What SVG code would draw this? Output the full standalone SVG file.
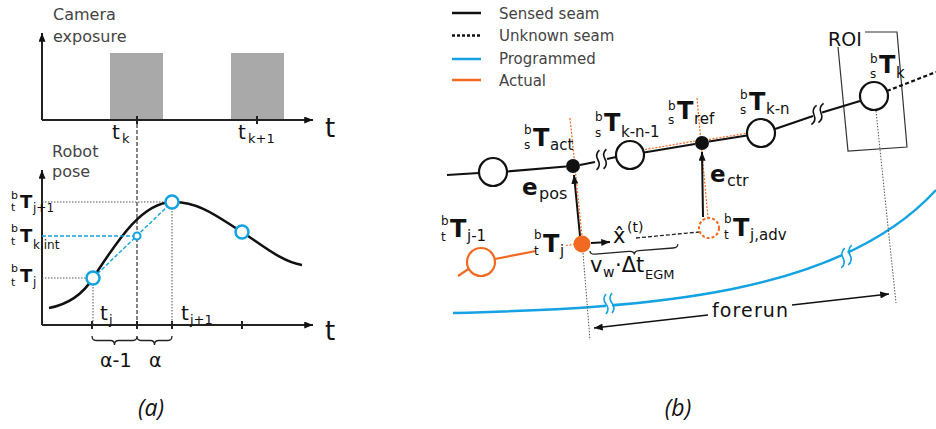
<svg xmlns="http://www.w3.org/2000/svg" width="936" height="429" viewBox="0 0 936 429">
<style>
text{font-family:"DejaVu Sans",sans-serif;fill:#111}
.lbl{fill:#444;font-size:16px}
.leg{fill:#444;font-size:15px}
.T{font-weight:bold;font-size:24px}
.Ta{font-weight:bold;font-size:18px}
.sm{font-size:12px}
.sma{font-size:11px}
.suba{font-size:12px}
.sub{font-size:15px}
.ax{stroke:#222;stroke-width:2;fill:none}
.seam{stroke:#111;stroke-width:2.2;fill:none}
.blue{stroke:#14a2e2;stroke-width:2.5;fill:none}
.org{stroke:#f26a21;stroke-width:2.2;fill:none}
.odash{stroke:#f26a21;stroke-width:1.2;stroke-dasharray:2 1.5;fill:none}
.gdot{stroke:#555;stroke-width:1;stroke-dasharray:1.5 1.5;fill:none}
.cap{font-family:"Open Sans",sans-serif;font-style:italic;font-size:23px}
</style>
<defs>
<marker id="ah" viewBox="0 0 10 8" refX="10" refY="4" markerWidth="9" markerHeight="7" markerUnits="userSpaceOnUse" orient="auto-start-reverse"><path d="M0,0 L10,4 L0,8 z" fill="#111"/></marker>
<path id="brk" d="M0,-10 q-4,5 0,10 q4,5 0,10" fill="none"/>
</defs>
<rect width="936" height="429" fill="#fff"/>

<!-- Panel (a) -->
<g id="camera-chart">
<rect x="110" y="53" width="53" height="67" fill="#a9a9a9"/>
<rect x="231" y="53" width="53" height="67" fill="#a9a9a9"/>
<line class="ax" x1="42" y1="120" x2="42" y2="33" marker-end="url(#ah)"/>
<line class="ax" x1="42" y1="120" x2="313" y2="120" marker-end="url(#ah)"/>
<line class="ax" x1="137" y1="116" x2="137" y2="124" stroke-width="1.5"/>
<line class="ax" x1="257" y1="116" x2="257" y2="124" stroke-width="1.5"/>
<text class="lbl" x="53" y="20">Camera</text>
<text class="lbl" x="53" y="42">exposure</text>
<text x="325" y="137" font-size="26">t</text>
<text x="112" y="139" font-size="20">t</text><text x="122" y="143" font-size="13">k</text>
<text x="238" y="139" font-size="20">t</text><text x="248" y="143" font-size="13">k+1</text>
</g>
<line x1="137" y1="124" x2="137" y2="325" stroke="#444" stroke-width="1.3" stroke-dasharray="4 2"/>
<g id="pose-chart">
<line class="ax" x1="42" y1="325" x2="42" y2="170" marker-end="url(#ah)"/>
<line class="ax" x1="42" y1="325" x2="313" y2="325" marker-end="url(#ah)"/>
<line class="ax" x1="92" y1="321" x2="92" y2="329" stroke-width="1.5"/>
<line class="ax" x1="137" y1="321" x2="137" y2="329" stroke-width="1.5"/>
<line class="ax" x1="172" y1="321" x2="172" y2="329" stroke-width="1.5"/>
<line class="ax" x1="242" y1="321" x2="242" y2="329" stroke-width="1.5"/>
<text class="lbl" x="52" y="157">Robot</text>
<text class="lbl" x="52" y="177">pose</text>
<text x="325" y="340" font-size="26">t</text>
<path class="gdot" d="M42,202 H166 M42,278 H87 M93,284 V325 M172,208 V325"/>
<path d="M49,308 C70,304 83,294 93,278 C115,245 140,203 172,202 C200,201 222,220 242,232 C262,245 282,262 302,265" fill="none" stroke="#111" stroke-width="2.5"/>
<path d="M42,236 H134 M93,278 L172,202" fill="none" stroke="#14a2e2" stroke-width="1.4" stroke-dasharray="4 2"/>
<circle cx="93" cy="278" r="6.5" fill="#fff" stroke="#14a2e2" stroke-width="2.5"/>
<circle cx="172" cy="202" r="6.5" fill="#fff" stroke="#14a2e2" stroke-width="2.5"/>
<circle cx="242" cy="232" r="6.5" fill="#fff" stroke="#14a2e2" stroke-width="2.5"/>
<circle cx="137" cy="236" r="3.5" fill="#fff" stroke="#14a2e2" stroke-width="2"/>
<text class="sma" x="11" y="199">b</text><text class="sma" x="11" y="211">t</text><text class="Ta" x="20" y="208">T</text><text class="suba" x="33" y="212">j+1</text>
<text class="sma" x="11" y="232">b</text><text class="sma" x="11" y="245">t</text><text class="Ta" x="20" y="242">T</text><text class="suba" x="33" y="249">k,int</text>
<text class="sma" x="11" y="272">b</text><text class="sma" x="11" y="286">t</text><text class="Ta" x="20" y="282">T</text><text class="suba" x="33" y="286">j</text>
<text x="100" y="320" font-size="20">t</text><text x="109" y="324" font-size="13">j</text>
<text x="181" y="320" font-size="20">t</text><text x="190" y="324" font-size="13">j+1</text>
<path d="M92,336 Q92,340.5 96,340.5 L110.5,340.5 Q114.5,340.5 114.5,345 Q114.5,340.5 118.5,340.5 L133,340.5 Q137,340.5 137,336 M137,336 Q137,340.5 141,340.5 L150.5,340.5 Q154.5,340.5 154.5,345 Q154.5,340.5 158.5,340.5 L168,340.5 Q172,340.5 172,336" fill="none" stroke="#222" stroke-width="1.3"/>
<text x="100" y="367" font-size="19">α-1</text>
<text x="149" y="367" font-size="19">α</text>
</g>

<!-- Panel (b) -->
<g id="legend">
<line x1="452" y1="13" x2="481" y2="13" stroke="#111" stroke-width="2.5"/>
<line x1="452" y1="35.5" x2="481" y2="35.5" stroke="#111" stroke-width="2.5" stroke-dasharray="3 2"/>
<line x1="452" y1="59" x2="481" y2="59" stroke="#14a2e2" stroke-width="2.5"/>
<line x1="452" y1="80" x2="481" y2="80" stroke="#f26a21" stroke-width="2.5"/>
<text class="leg" x="499" y="18.5">Sensed seam</text>
<text class="leg" x="499" y="41">Unknown seam</text>
<text class="leg" x="499" y="64">Programmed</text>
<text class="leg" x="499" y="86">Actual</text>
</g>

<g id="programmed-path">
<path class="blue" d="M453,313 C650,308 840,295 936,190"/>
<rect x="606" y="296" width="6" height="16" fill="#fff" transform="rotate(-2 609 304)"/>
<rect x="843" y="248" width="6" height="18" fill="#fff" transform="rotate(-20 846 257)"/>
<use href="#brk" transform="translate(606,304)" stroke="#14a2e2" stroke-width="1.6"/>
<use href="#brk" transform="translate(612,303)" stroke="#14a2e2" stroke-width="1.6"/>
<use href="#brk" transform="translate(843,258) rotate(10)" stroke="#14a2e2" stroke-width="1.6"/>
<use href="#brk" transform="translate(850,255) rotate(10)" stroke="#14a2e2" stroke-width="1.6"/>
</g>

<g id="roi">
<path d="M865,32 L897,32 L907,147 L848,151 L838,47" fill="none" stroke="#333" stroke-width="1.2"/>
<text x="828" y="46" font-size="19" fill="#333">ROI</text>
</g>

<g id="connectors">
<path class="gdot" d="M583,253 L590,340 M876,111 L896,303"/>
<path class="seam" d="M447,175 L479,173 M507,171.5 L566,166.5 M580,165 L595,162 M607,159 L616,157 M644,152.5 L695,144 M709,141.5 L747,135.5 M775,129 L813,116 M822,112.5 L860,101"/>
<path class="seam" d="M887,91 L936,72" stroke-dasharray="4 2.5"/>
<use href="#brk" transform="translate(598,160) rotate(8)" stroke="#111" stroke-width="1.6"/>
<use href="#brk" transform="translate(605,159) rotate(8)" stroke="#111" stroke-width="1.6"/>
<use href="#brk" transform="translate(814,115) rotate(15)" stroke="#111" stroke-width="1.6"/>
<use href="#brk" transform="translate(821,113) rotate(15)" stroke="#111" stroke-width="1.6"/>
<path class="odash" d="M570,118 L582,236 M697,98 L708,218 M645,149.5 L695,141 M709,139.5 L748,133"/>
<path class="org" d="M458,276 L470,268 M495,259 L536,251"/>
<path class="odash" d="M566,245.5 L574,244.5"/>
<line x1="580" y1="236" x2="574" y2="175" stroke="#111" stroke-width="2" marker-end="url(#ah)"/>
<line x1="703" y1="217" x2="702" y2="152" stroke="#111" stroke-width="2" marker-end="url(#ah)"/>
<line x1="591" y1="243" x2="610" y2="242" stroke="#111" stroke-width="2" marker-end="url(#ah)"/>
<line x1="636" y1="238" x2="699" y2="232" stroke="#222" stroke-width="1.3" stroke-dasharray="4 2"/>
<path d="M0,0 Q0,3.5 5,3.5 L39,3.5 Q44,3.5 44,7 Q44,3.5 49,3.5 L83,3.5 Q88,3.5 88,0" fill="none" stroke="#222" stroke-width="1.3" transform="translate(590,251) rotate(-4.5)"/>
<line x1="594" y1="328" x2="708" y2="315" stroke="#111" stroke-width="1.3" marker-start="url(#ah)"/>
<line x1="792" y1="305" x2="889" y2="294" stroke="#111" stroke-width="1.3" marker-end="url(#ah)"/>
<text x="712" y="317" font-size="19" textLength="76" fill="#222">forerun</text>
</g>

<g id="seam-pose-1"><circle cx="493" cy="172" r="14" fill="#fff" stroke="#111" stroke-width="2.2"/></g>
<g id="T-act"><circle cx="573" cy="166" r="7" fill="#111"/>
<text class="sm" x="524" y="134">b</text><text class="sm" x="524" y="149">s</text><text class="T" x="533" y="146">T</text><text class="sub" x="550" y="150">act</text></g>
<g id="T-k-n-1"><circle cx="630" cy="155" r="14" fill="#fff" stroke="#111" stroke-width="2.2"/>
<text class="sm" x="595" y="121">b</text><text class="sm" x="595" y="137">s</text><text class="T" x="604" y="131">T</text><text class="sub" x="621" y="137">k-n-1</text></g>
<g id="T-ref"><circle cx="702" cy="143" r="7" fill="#111"/>
<text class="sm" x="668" y="110">b</text><text class="sm" x="668" y="124">s</text><text class="T" x="677" y="119">T</text><text class="sub" x="694" y="124">ref</text></g>
<g id="T-k-n"><circle cx="761" cy="133" r="14" fill="#fff" stroke="#111" stroke-width="2.2"/>
<text class="sm" x="740" y="99">b</text><text class="sm" x="740" y="114">s</text><text class="T" x="749" y="110">T</text><text class="sub" x="766" y="114">k-n</text></g>
<g id="T-k"><circle cx="874" cy="96" r="14" fill="#fff" stroke="#111" stroke-width="2.2"/>
<text class="sm" x="870" y="63">b</text><text class="sm" x="870" y="78">s</text><text class="T" x="879" y="73">T</text><text class="sub" x="896" y="78">k</text></g>
<g id="e-pos"><text x="522" y="195" font-size="23" font-weight="bold">e</text><text x="539" y="199" font-size="16">pos</text></g>
<g id="e-ctr"><text x="710" y="182" font-size="23" font-weight="bold">e</text><text x="727" y="186" font-size="16">ctr</text></g>
<g id="T-j-1"><circle cx="481" cy="262" r="14" fill="#fff" stroke="#f26a21" stroke-width="2.2"/>
<text class="sm" x="441" y="225">b</text><text class="sm" x="441" y="241">t</text><text class="T" x="450" y="237">T</text><text class="sub" x="467" y="241">j-1</text></g>
<g id="T-j"><circle cx="582" cy="244" r="8.5" fill="#f26a21"/>
<text class="sm" x="534" y="239">b</text><text class="sm" x="534" y="255">t</text><text class="T" x="543" y="252">T</text><text class="sub" x="560" y="256">j</text></g>
<g id="T-j-adv"><circle cx="709" cy="228" r="10" fill="#fff" stroke="#f26a21" stroke-width="2" stroke-dasharray="3 2"/>
<text class="sm" x="724" y="223">b</text><text class="sm" x="724" y="239">t</text><text class="T" x="733" y="236">T</text><text class="sub" x="750" y="240">j,adv</text></g>
<g id="x-hat"><text x="613" y="243" font-size="21">x&#x302;</text><text x="627" y="232" font-size="14">(t)</text></g>
<g id="vw-dt"><text x="590" y="272" font-size="21">v</text><text x="603" y="277" font-size="14">w</text><text x="615" y="272" font-size="21">·Δt</text><text x="645" y="279" font-size="13">EGM</text></g>

<text class="cap" x="151" y="416" text-anchor="middle">(a)</text>
<text class="cap" x="678" y="416" text-anchor="middle">(b)</text>
</svg>
